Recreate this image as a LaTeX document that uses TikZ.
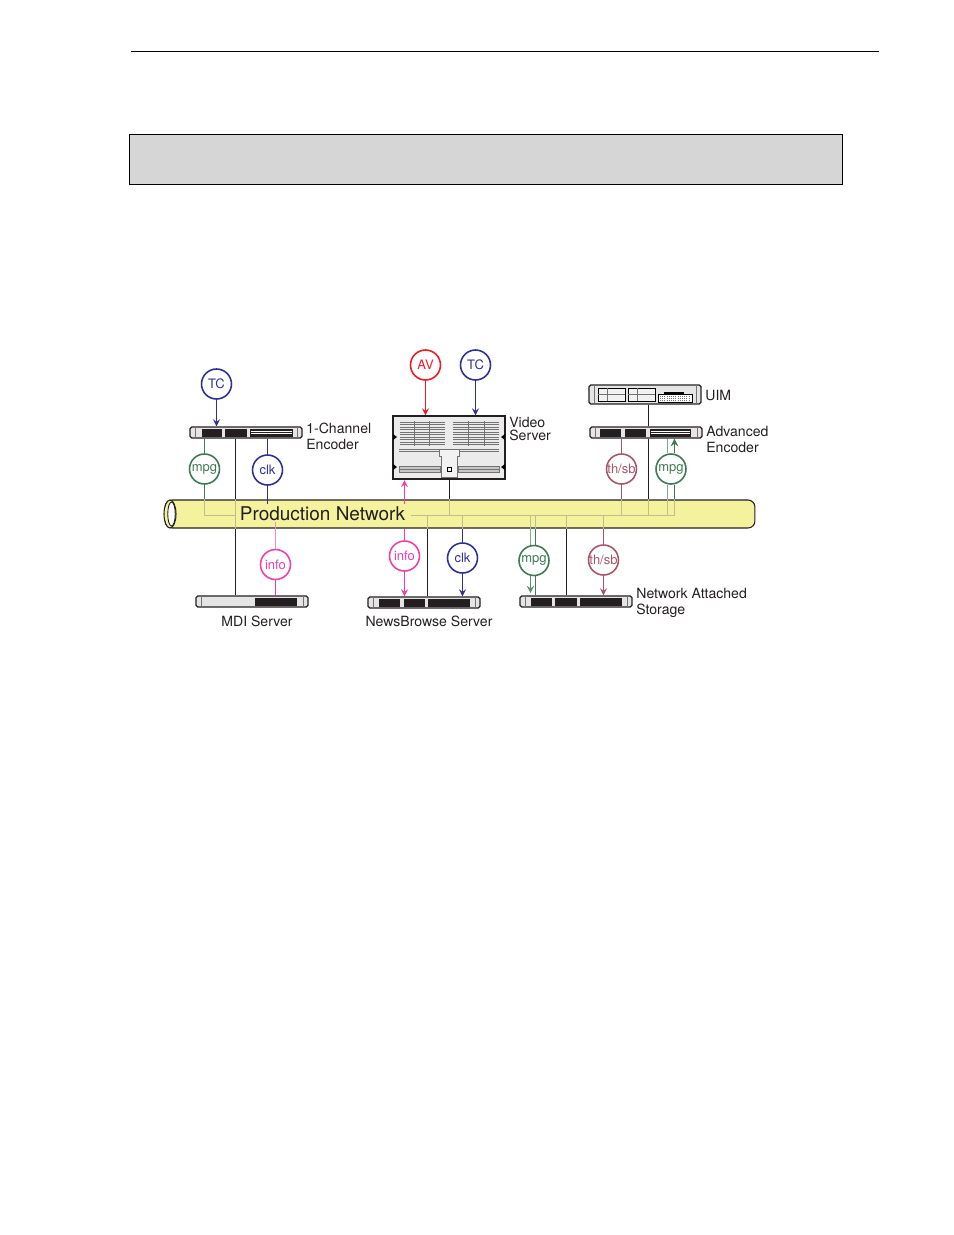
\documentclass[tikz,border=0pt]{standalone}
\usepackage{fontspec}
\setmainfont{TeX Gyre Heros}
\usepackage{xcolor}
\usepackage{tikz}
\usetikzlibrary{arrows,shapes.geometric}
\definecolor{tcblue}{HTML}{2E3192}
\definecolor{avred}{HTML}{ED1C24}
\definecolor{mpggreen}{HTML}{3F7A52}
\definecolor{mpglight}{HTML}{7FAD8B}
\definecolor{infopink}{HTML}{EE40A8}
\definecolor{thsbred}{HTML}{A6566A}
\definecolor{bustan}{HTML}{BDBD8E}
\definecolor{tubeyellow}{HTML}{F5F29E}
\definecolor{inkblack}{HTML}{231F20}
\tikzset{
	sig/.style={circle,draw=#1,text=#1,fill=white,line width=.9pt,minimum size=.6cm,inner sep=0,font=\fontsize{7.4}{8}\selectfont},
	rack/.style={draw=inkblack,line width=.7pt,fill=black!10,rounded corners=1pt,minimum width=2.24cm,minimum height=.22cm,inner sep=0},
	lab/.style={anchor=west,inner sep=0,text=inkblack,font=\fontsize{8}{9}\selectfont},
	panel/.style={fill=inkblack},
	fine/.style={line width=.25pt,draw=black!55},
	wire/.style={line width=.6pt,draw=inkblack},
	sigwire/.style={line width=.95pt,draw=#1},
	bus/.style={line width=.6pt,draw=bustan}
}
% rack unit: name, left x, top y, and the x pairs of its dark panels
\newcommand{\rackunit}[4]{
	\node[rack] (#1) at (#2+56,#3+5.5) {};
	\draw[fine] (#2+5,#3) -- (#2+5,#3+11) (#2+107,#3) -- (#2+107,#3+11);
	\foreach \a/\b in {#4}
		\fill[panel] (\a,#3+2) rectangle (\b,#3+10);
}
\begin{document}
\begin{tikzpicture}[x=.02cm,y=-.02cm]
	\useasboundingbox (0,0) rectangle (954,1235);
	%
	\coordinate (ruleL) at (131,51.5);
	\coordinate (ruleR) at (879,51.5);
	\draw[line width=.5pt] (ruleL) -- (ruleR);
	\node[draw=black,line width=.5pt,fill=black!16,minimum width=14.28cm,minimum height=1cm,inner sep=0] (banner) at (486,159.5) {};
	%
	% network tube
	\node[draw=inkblack,line width=.6pt,fill=tubeyellow,rounded corners=.14cm,minimum width=11.8cm,minimum height=.56cm,inner sep=0] (tube) at (460,514) {};
	\node[ellipse,draw=inkblack,line width=.6pt,fill=tubeyellow,minimum width=.24cm,minimum height=.56cm,inner sep=0] (tubeend) at (170,514) {};
	\node[ellipse,draw=inkblack,line width=.5pt,fill=white,minimum width=.15cm,minimum height=.48cm,inner sep=0] (tubehole) at (171.5,514) {};
	%
	% devices
	\rackunit{encA}{190}{427}{202/222,225/247,250/293}
	\rackunit{encB}{590}{427}{600/621,625/646,650/691}
	\rackunit{mdi}{196}{596}{255/297}
	\rackunit{news}{368}{597}{379/400,404/425,428/470}
	\rackunit{nas}{520}{596}{531/552,555/577,580/622}
	\foreach \a/\b in {250/293,650/691}
		\draw[white,line width=.3pt] (\a+1,431) -- (\b-1,431) (\a+1,433.5) -- (\b-1,433.5);
	%
	\node[rack,minimum height=.38cm] (uim) at (645,394.5) {};
	\draw[fine] (594,385) -- (594,404) (696,385) -- (696,404);
	\foreach \a/\b in {598/625,628/655}{
		\draw[line width=.4pt,fill=black!5] (\a,388) rectangle (\b,401);
		\draw[fine] (\a,394.5) -- (\b,394.5) (\a+9,388) -- (\a+9,401);
	}
	\draw[line width=.3pt,fill=white] (658,394) rectangle (692,402);
	\draw[line width=1pt] (664,393) -- (684,393);
	\foreach \y in {396,398,400}
		\draw[fine,densely dotted] (660,\y) -- (690,\y);
	%
	\node[rack,line width=.6pt,minimum width=2.24cm,minimum height=1.26cm,rounded corners=0pt,fill=black!8] (vid) at (449,447.5) {};
	\foreach \y in {422,424.5,...,445}{
		\draw[fine] (400,\y) -- (445,\y);
		\draw[fine] (453,\y) -- (499,\y);
	}
	\foreach \x in {414,429,468,484}
		\draw[fine] (\x,421) -- (\x,446);
	\draw[fine] (399,449) -- (499,449) (399,451) -- (499,451);
	\draw[fine,fill=black!5] (439,449) -- (439,456) -- (441,456) -- (441,477) -- (457,477) -- (457,456) -- (459,456) -- (459,449) -- cycle;
	\foreach \a/\b in {399/440,458/499}{
		\draw[fine,fill=black!22] (\a,466) rectangle (\b,472);
		\draw[fine] (\a,469) -- (\b,469);
	}
	\draw[line width=.3pt] (447,467) rectangle (451,471);
	\fill (393,434) -- (397,437) -- (393,440) -- cycle (393,464) -- (397,467) -- (393,470) -- cycle;
	\fill (505,434) -- (501,437) -- (505,440) -- cycle (505,464) -- (501,467) -- (505,470) -- cycle;
	%
	% signal circles
	\node[sig=tcblue] (tcA) at (216.5,384) {TC};
	\node[sig=mpggreen] (mpgA) at (204.5,469) {mpg};
	\node[sig=tcblue] (clkA) at (267.5,470) {clk};
	\node[sig=avred] (av) at (425.5,365) {AV};
	\node[sig=tcblue] (tcB) at (475.5,365) {TC};
	\node[sig=thsbred] (thA) at (621.5,469) {th/sb};
	\node[sig=mpggreen] (mpgB) at (671,469) {mpg};
	\node[sig=infopink] (infoA) at (275.5,564.5) {info};
	\node[sig=infopink] (infoB) at (404.5,556) {info};
	\node[sig=tcblue] (clkB) at (462.5,558) {clk};
	\node[sig=mpggreen] (mpgC) at (534,560.5) {mpg};
	\node[sig=thsbred] (thB) at (603.5,560) {th/sb};
	%
	% taps on the bus line
	\coordinate (busA) at (204.5,515.5);
	\coordinate (busB) at (235.5,515.5);
	\coordinate (busC) at (411,515.5);
	\coordinate (busD) at (675,515.5);
	\coordinate (tapA) at (449.5,515.5);
	\coordinate (tapB) at (427.5,515.5);
	\coordinate (tapC) at (566.5,515.5);
	\coordinate (tapD) at (648.5,515.5);
	\coordinate (upB) at (404.5,480);
	\coordinate (stubA) at (267.5,504);
	\coordinate (stubB) at (404.5,504);
	\coordinate (stubC) at (275.5,522);
	\coordinate (pipeA) at (530.5,515.5);
	\coordinate (pipeB) at (535.5,515.5);
	\coordinate (pipeC) at (667.5,515.5);
	\coordinate (pipeD) at (674.5,515.5);
	\coordinate (pipeE) at (530.5,593);
	%
	\draw[bus] (busA) -- (busB);
	\draw[bus] (busC) -- (busD);
	\draw[bus] (busA) -- (busA |- tube.north);
	\draw[bus] (busB) -- (busB |- tube.north);
	\draw[bus] (busB) -- (busB |- tube.south);
	\draw[bus] (tapA) -- (tapA |- tube.north);
	\draw[bus] (tapB) -- (tapB |- tube.south);
	\draw[bus] (tapC) -- (tapC |- tube.south);
	\draw[bus] (tapD) -- (tapD |- tube.north);
	\draw[bus] (thA |- busD) -- (thA |- tube.north);
	\draw[bus] (clkB |- busD) -- (clkB |- tube.south);
	\draw[bus] (thB |- busD) -- (thB |- tube.south);
	\draw[bus] (pipeA) -- (pipeA |- tube.south);
	\draw[bus] (pipeB) -- (pipeB |- tube.south);
	\draw[bus] (pipeC) -- (pipeC |- tube.north);
	\draw[bus] (pipeD) -- (pipeD |- tube.north);
	%
	% black links
	\draw[wire] (busB |- encA.south) -- (busB |- tube.north);
	\draw[wire] (busB |- tube.south) -- (busB |- mdi.north);
	\draw[wire] (tapA |- vid.south) -- (tapA |- tube.north);
	\draw[wire] (tapB |- tube.south) -- (tapB |- news.north);
	\draw[wire] (tapC |- tube.south) -- (tapC |- nas.north);
	\draw[wire] (tapD |- encB.south) -- (tapD |- tube.north);
	\draw[wire] (tapD |- uim.south) -- (tapD |- encB.north);
	%
	% signal links
	\draw[sigwire=mpggreen] (mpgA |- encA.south) -- (mpgA);
	\draw[sigwire=mpggreen] (mpgA) -- (mpgA |- tube.north);
	\draw[sigwire=tcblue] (clkA |- encA.south) -- (clkA);
	\draw[sigwire=tcblue] (clkA) -- (stubA);
	\draw[sigwire=infopink!60] (infoA) -- (stubC);
	\draw[sigwire=infopink] (infoA) -- (infoA |- mdi.north);
	\path[->,>=stealth,line width=.8pt]
		(tcA) edge[tcblue] (tcA |- encA.north)
		(av) edge[avred] (av |- vid.north)
		(tcB) edge[tcblue] (tcB |- vid.north)
		(stubB) edge[infopink] (upB)
		(infoB) edge[infopink] (infoB |- news.north)
		(clkB) edge[tcblue] (clkB |- news.north)
		(thB) edge[thsbred] (thB |- nas.north)
		(pipeA |- mpgC.south) edge[mpglight!40!mpggreen] (pipeE);
	\draw[sigwire=infopink] (infoB |- tube.south) -- (infoB);
	\draw[sigwire=tcblue] (clkB |- tube.south) -- (clkB);
	\draw[sigwire=mpglight] (pipeA |- tube.south) -- (pipeA |- mpgC.north);
	\draw[sigwire=mpggreen] (pipeB |- tube.south) -- (pipeB |- mpgC.north);
	\draw[sigwire=mpggreen] (pipeB |- mpgC.south) -- (pipeB |- nas.north);
	\draw[sigwire=thsbred] (thB |- tube.south) -- (thB);
	\draw[sigwire=thsbred] (thA |- encB.south) -- (thA);
	\draw[sigwire=thsbred] (thA) -- (thA |- tube.north);
	\draw[sigwire=mpglight] (pipeC |- encB.south) -- (pipeC |- mpgB.north);
	\draw[sigwire=mpglight] (pipeC |- mpgB.south) -- (pipeC |- tube.north);
	\draw[sigwire=mpggreen] (pipeD |- tube.north) -- (pipeD |- mpgB.south);
	\draw[->,>=stealth,sigwire=mpggreen] (pipeD |- mpgB.north) -- (pipeD |- encB.south);
	%
	% labels
	\node[text=inkblack,font=\fontsize{10.8}{12}\selectfont,inner sep=0] (net) at (322.5,513.5) {Production Network};
	\node[lab,align=left] (encAlab) at (306,436.5) {1-Channel\\[.5pt]Encoder};
	\node[lab,align=left] (vidlab) at (509,429) {Video\\[-1.4pt]Server};
	\node[lab] (uimlab) at (705,395) {UIM};
	\node[lab,align=left] (encBlab) at (706,439.5) {Advanced\\[.5pt]Encoder};
	\node[lab,align=left] (naslab) at (636,603) {Network Attached\\[.5pt]Storage};
	\node[lab,anchor=center] (mdilab) at (257,621) {MDI Server};
	\node[lab,anchor=center] (newslab) at (429,621) {NewsBrowse Server};
\end{tikzpicture}
\end{document}
